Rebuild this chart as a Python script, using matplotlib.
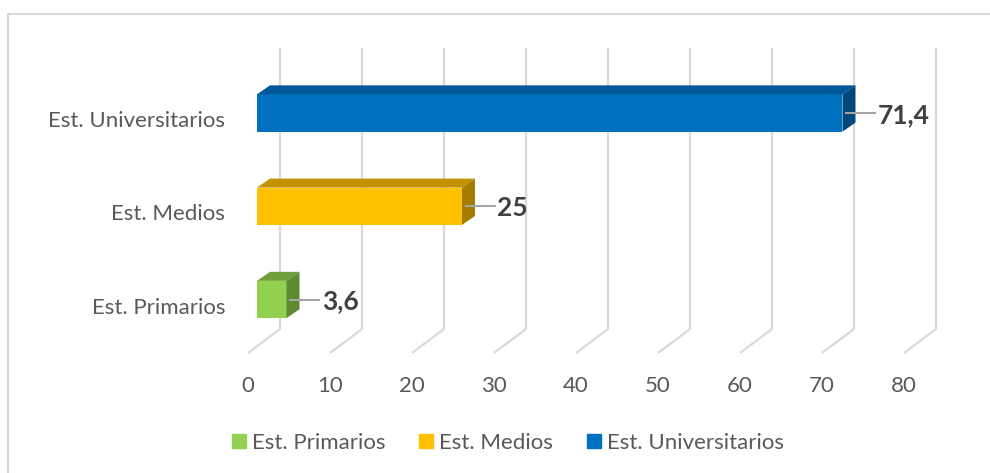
import matplotlib
matplotlib.use('Agg')
import matplotlib.pyplot as plt
from matplotlib.patches import Polygon, Rectangle
from matplotlib.lines import Line2D

# data
categories = ['Est. Primarios', 'Est. Medios', 'Est. Universitarios']
values = [3.6, 25, 71.4]
value_labels = ['3,6', '25', '71,4']
ticks = [0, 10, 20, 30, 40, 50, 60, 70, 80]

# colours: front face, top face, side face
face_colors = ['#92D050', '#FFC000', '#0070C0']
top_colors = ['#6F9E3B', '#C29200', '#00589A']
side_colors = ['#5E8A32', '#A67C00', '#00477D']

plt.rcParams['font.family'] = ['Lato', 'DejaVu Sans']

W, H = 990, 473
fig = plt.figure(figsize=(W / 100, H / 100), dpi=100)

# layout (pixels per unit and where value 0 / category 0 sit in the picture)
sx, sy = 8.2, 93.25
x0, y0 = 257, 299.5
xlim = (-3.5, 86)
ylim = (-1.3, 2.85)
left = x0 + xlim[0] * sx
bottom = y0 - ylim[0] * sy
ax = fig.add_axes([left / W, (H - bottom) / H,
                   (xlim[1] - xlim[0]) * sx / W, (ylim[1] - ylim[0]) * sy / H])
ax.set_xlim(*xlim)
ax.set_ylim(*ylim)
ax.axis('off')

# 3d look: offsets in data units
back_dx = 23 / sx          # back wall relative to bar front
floor_dx = -9 / sx         # floor front edge relative to bar front
wall_top = (y0 - 48) / sy
wall_bottom = (y0 - 329) / sy
floor_front = (y0 - 353) / sy
depth_dx, depth_dy = 13 / sx, 9 / sy
half = 0.2
grid_color = '#D9D9D9'
text_size = 16

for t in ticks:
    ax.plot([t + back_dx, t + back_dx, t + floor_dx],
            [wall_top, wall_bottom, floor_front],
            color=grid_color, lw=1.6, zorder=1, solid_capstyle='butt')
    ax.text(t + floor_dx, (y0 - 386) / sy, str(t), ha='center', va='center',
            fontsize=text_size, color='#595959')

for i, (v, lab) in enumerate(zip(values, value_labels)):
    ax.barh(i, v, height=2 * half, color=face_colors[i], zorder=3)
    top = [(0, i + half), (v, i + half),
           (v + depth_dx, i + half + depth_dy), (depth_dx, i + half + depth_dy)]
    side = [(v, i - half), (v, i + half),
            (v + depth_dx, i + half + depth_dy), (v + depth_dx, i - half + depth_dy)]
    ax.add_patch(Polygon(top, closed=True, color=top_colors[i], zorder=3, lw=0))
    ax.add_patch(Polygon(side, closed=True, color=side_colors[i], zorder=3, lw=0))
    ax.plot([v + depth_dx * 0.3, v + 4.0], [i, i], color='#A6A6A6', lw=1.5, zorder=4)
    ax.text(v + 4.3, i - 2 / sy, lab, ha='left', va='center', fontsize=19,
            fontweight='bold', color='#404040')
    ax.text((225 - x0) / sx, i - 8 / sy, categories[i], ha='right', va='center',
            fontsize=text_size, color='#595959')

handles = [Rectangle((0, 0), 1, 1, color=c) for c in face_colors]
fig.legend(handles, categories, loc='center', bbox_to_anchor=(508 / W, (H - 443) / H),
           ncol=3, frameon=False, fontsize=text_size, labelcolor='#595959',
           handlelength=0.63, handleheight=0.63, handletextpad=0.27, columnspacing=1.5,
           borderpad=0, borderaxespad=0)

# chart border
fig.add_artist(Line2D([8 / W, 8 / W, 1], [0, 1 - 14 / H, 1 - 14 / H],
                      color=grid_color, lw=1.5))

fig.savefig('out.png', dpi=100)
